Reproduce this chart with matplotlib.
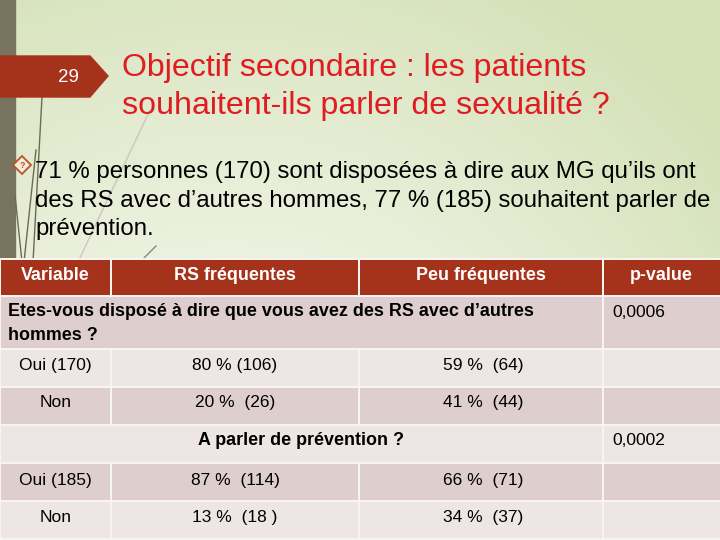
import numpy as np
import matplotlib
matplotlib.use("Agg")
import matplotlib.pyplot as plt
from matplotlib.patches import Rectangle, Polygon

# ---------------- data ----------------
slide_number = "29"
title_lines = ["Objectif secondaire : les patients",
               "souhaitent-ils parler de sexualité ?"]
bullet_lines = ["71 % personnes (170) sont disposées à dire aux MG qu’ils ont",
                "des RS avec d’autres hommes, 77 % (185) souhaitent parler de",
                "prévention."]
header = ["Variable", "RS fréquentes", "Peu fréquentes", "p-value"]
q1_text = "Etes-vous disposé à dire que vous avez des RS avec d’autres\nhommes ?"
q1_p = "0,0006"
q1_labels = ["Oui (170)", "Non"]
q1_freq = ["80 % (106)", "20 %  (26)"]
q1_rare = ["59 %  (64)", "41 %  (44)"]
q2_text = "A parler de prévention ?"
q2_p = "0,0002"
q2_labels = ["Oui (185)", "Non"]
q2_freq = ["87 %  (114)", "13 %  (18 )"]
q2_rare = ["66 %  (71)", "34 %  (37)"]

# ---------------- layout (pixel space) ----------------
W, H = 720, 540
fig = plt.figure(figsize=(7.2, 5.4), dpi=100)
ax = fig.add_axes([0, 0, 1, 1])
ax.set_xlim(0, W)
ax.set_ylim(H, 0)
ax.axis("off")

FONT = "Liberation Sans"

# background gradient
yy, xx = np.mgrid[0:H, 0:W]
white = np.array([247, 248, 240]) / 255
green = np.array([212, 225, 183]) / 255
d = np.sqrt(((xx - 230) / 620.0) ** 2 + ((yy - 470) / 560.0) ** 2)
t = np.clip(d, 0, 1) ** 1.3
img = white[None, None, :] * (1 - t[..., None]) + green[None, None, :] * t[..., None]
ax.imshow(img, extent=[0, W, H, 0], zorder=0, aspect="auto")

# left dark strip
ax.add_patch(Rectangle((0, 0), 15, H, color="#78735e", zorder=1))

# decorative grass lines
grass = [((42, 97), (33, 262), "#6d6a52", 1.0),
         ((36, 150), (24, 262), "#6d6a52", 1.0),
         ((150, 110), (78, 262), "#c9c9bb", 1.0),
         ((156, 246), (140, 262), "#8a8a78", 1.0),
         ((15, 195), (22, 262), "#6d6a52", 1.0)]
for (x0, y0), (x1, y1), c, lw in grass:
    ax.plot([x0, x1], [y0, y1], color=c, lw=lw, zorder=1)

# slide number banner
ax.add_patch(Polygon([(0, 56), (90, 56), (108, 76), (90, 97), (0, 97)],
                     closed=True, color="#a5321b", zorder=2))
ax.text(68, 77, slide_number, color="white", fontsize=13.5, family=FONT,
        ha="center", va="center", zorder=3)

# title
title_base = [76, 114]
for line, yb in zip(title_lines, title_base):
    ax.text(122, yb, line, color="#e01b22", fontsize=23.1, family=FONT,
            ha="left", va="baseline", zorder=3)

# bullet (diamond with question mark)
ax.plot([22], [165], marker="D", markersize=9, markerfacecolor="#f6ead8",
        markeredgecolor="#b5552a", markeredgewidth=1.3, zorder=3)
ax.text(22, 165.5, "?", color="#b5552a", fontsize=6.5, family=FONT,
        fontweight="bold", ha="center", va="center", zorder=4)
bullet_base = [178, 207, 235]
for line, yb in zip(bullet_lines, bullet_base):
    ax.text(35, yb, line, color="black", fontsize=17.3, family=FONT,
            ha="left", va="baseline", zorder=3)

# ---------------- table ----------------
col_edges = [0, 111, 359, 603, 720]
rows = [(260, 295), (297, 348), (350, 386), (388, 424), (426, 462), (464, 500), (502, 538)]
HEAD = "#a5321b"
DARK = "#decfce"
LIGHT = "#ede6e5"
GAP = 1.0
BOLD_FS = 12.9
REG_FS = 12.5

# white grid background behind cells
ax.add_patch(Rectangle((0, 258), W, H - 258, color="#f7f5f2", zorder=1.5, lw=0))


def cell(c0, c1, r, color):
    x0 = col_edges[c0] + (GAP if c0 > 0 else 1)
    x1 = col_edges[c1] - (GAP if c1 < 4 else 0)
    y0, y1 = rows[r]
    ax.add_patch(Rectangle((x0, y0), x1 - x0, y1 - y0, color=color, zorder=2, lw=0))


def ccenter(c):
    return (col_edges[c] + col_edges[c + 1]) / 2


# header
for c, name in enumerate(header):
    cell(c, c + 1, 0, HEAD)
    ax.text(ccenter(c), 280, name, color="white", fontsize=BOLD_FS, family=FONT,
            fontweight="bold", ha="center", va="baseline", zorder=3)

# question 1
cell(0, 3, 1, DARK)
cell(3, 4, 1, DARK)
q1_lines = q1_text.split("\n")
ax.text(8, 316, q1_lines[0], fontsize=BOLD_FS, family=FONT, fontweight="bold",
        ha="left", va="baseline", zorder=3)
ax.text(8, 340, q1_lines[1], fontsize=BOLD_FS, family=FONT, fontweight="bold",
        ha="left", va="baseline", zorder=3)
ax.text(612, 317, q1_p, fontsize=REG_FS, family=FONT, ha="left", va="baseline", zorder=3)

data_rows = [
    (2, LIGHT, q1_labels[0], q1_freq[0], q1_rare[0], 370),
    (3, DARK, q1_labels[1], q1_freq[1], q1_rare[1], 407),
    (5, DARK, q2_labels[0], q2_freq[0], q2_rare[0], 485),
    (6, LIGHT, q2_labels[1], q2_freq[1], q2_rare[1], 522),
]
for r, color, lab, f, rr, yb in data_rows:
    for c in range(4):
        cell(c, c + 1, r, color)
    for c, s in enumerate([lab, f, rr]):
        ax.text(ccenter(c) + (2 if c == 2 else 0), yb, s, fontsize=REG_FS, family=FONT,
                ha="center", va="baseline", zorder=3)

# question 2
cell(0, 3, 4, LIGHT)
cell(3, 4, 4, LIGHT)
ax.text(301, 445, q2_text, fontsize=BOLD_FS, family=FONT, fontweight="bold",
        ha="center", va="baseline", zorder=3)
ax.text(612, 445, q2_p, fontsize=REG_FS, family=FONT, ha="left", va="baseline", zorder=3)

fig.savefig("out.png", dpi=100)
